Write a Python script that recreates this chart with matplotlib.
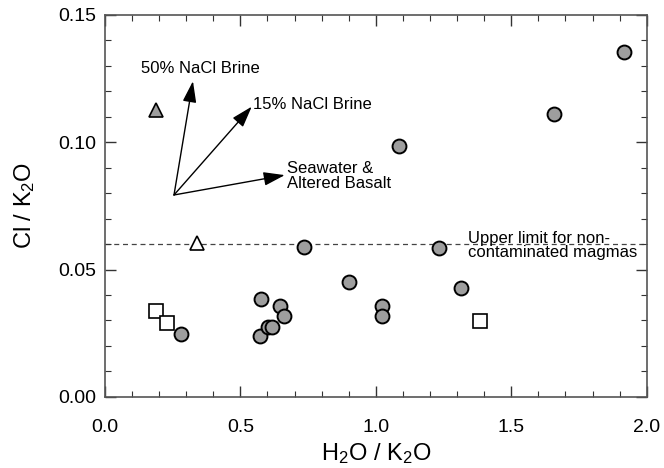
import matplotlib
matplotlib.use("Agg")
import matplotlib.pyplot as plt
from matplotlib.ticker import MultipleLocator

plt.rcParams['font.family'] = ['Liberation Sans', 'DejaVu Sans']
plt.rcParams['mathtext.default'] = 'regular'

# gray circles (samples)
circ_x = [0.280, 0.572, 0.576, 0.601, 0.616, 0.646, 0.661, 0.734, 0.900,
          1.022, 1.022, 1.085, 1.232, 1.314, 1.657, 1.915]
circ_y = [0.0246, 0.0238, 0.0383, 0.0273, 0.0273, 0.0355, 0.0316, 0.0590, 0.0453,
          0.0355, 0.0316, 0.0984, 0.0586, 0.0426, 0.1113, 0.1355]
# open squares
sq_x = [0.188, 0.229, 1.384]
sq_y = [0.0336, 0.0289, 0.0297]
# triangles
tri_open_x = [0.339]
tri_open_y = [0.0605]
tri_gray_x = [0.188]
tri_gray_y = [0.1125]

upper_limit = 0.06

# vectors: origin and tips
vec_origin = (0.255, 0.0793)
vec_tips = [(0.325, 0.124), (0.542, 0.114), (0.664, 0.0871)]
vec_labels = ['50% NaCl Brine', '15% NaCl Brine', 'Seawater &\nAltered Basalt']
label_pos = [(0.133, 0.129), (0.545, 0.1148), (0.672, 0.0867)]

fig = plt.figure(figsize=(6.64, 4.68), dpi=100)
ax = fig.add_axes([0.158, 0.152, 0.816, 0.816])

gray = '#9e9e9e'
ax.axhline(upper_limit, color='#444444', ls=(0, (4, 3)), lw=0.9, zorder=1)

ax.plot(circ_x, circ_y, 'o', ms=10, mfc=gray, mec='black', mew=1.4, zorder=3)
ax.plot(sq_x, sq_y, 's', ms=10, mfc='white', mec='black', mew=1.2, zorder=3)
ax.plot(tri_open_x, tri_open_y, '^', ms=10, mfc='white', mec='black', mew=1.2, zorder=3)
ax.plot(tri_gray_x, tri_gray_y, '^', ms=10, mfc=gray, mec='black', mew=1.2, zorder=3)

for tip, lab, pos in zip(vec_tips, vec_labels, label_pos):
    ax.annotate('', xy=tip, xytext=vec_origin,
                arrowprops=dict(arrowstyle='-|>,head_length=1.3,head_width=0.42',
                                color='black', lw=1.0, shrinkA=0, shrinkB=0))
    ax.text(pos[0], pos[1], lab, fontsize=12, ha='left', va='center',
            linespacing=0.95)

ax.text(1.34, 0.0594, 'Upper limit for non-\ncontaminated magmas', fontsize=12,
        ha='left', va='center', linespacing=0.95)

ax.set_xlim(0, 2.0)
ax.set_ylim(0, 0.15)
ax.xaxis.set_major_locator(MultipleLocator(0.5))
ax.xaxis.set_minor_locator(MultipleLocator(0.1))
ax.yaxis.set_major_locator(MultipleLocator(0.05))
ax.yaxis.set_minor_locator(MultipleLocator(0.01))
ax.xaxis.set_major_formatter(plt.FuncFormatter(lambda v, p: f'{v:.1f}'))
ax.yaxis.set_major_formatter(plt.FuncFormatter(lambda v, p: f'{v:.2f}'))

ax.tick_params(which='both', direction='in', top=True, right=True,
               color='#333333', labelsize=14)
ax.tick_params(which='major', length=8, width=1)
ax.tick_params(which='minor', length=4, width=0.8)
ax.tick_params(axis='x', pad=16)
ax.tick_params(axis='y', pad=6)
for s in ax.spines.values():
    s.set_color('#555555')
    s.set_linewidth(1.2)

ax.set_xlabel('H$_2$O / K$_2$O', fontsize=17)
ax.set_ylabel('Cl / K$_2$O', fontsize=17)
ax.xaxis.set_label_coords(0.5, -0.115)
ax.yaxis.set_label_coords(-0.125, 0.5)

fig.savefig('out.png', dpi=100)
